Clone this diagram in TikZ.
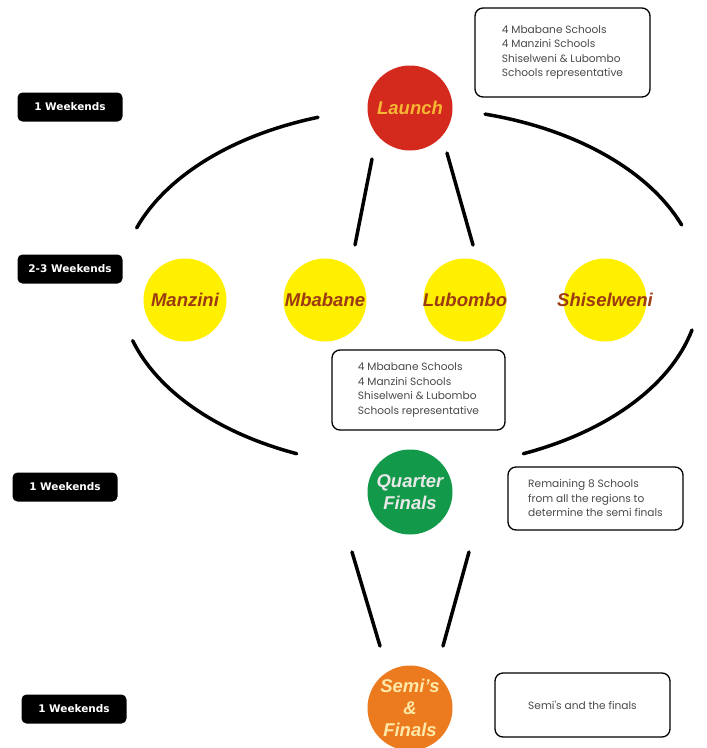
\documentclass[tikz,border=0pt]{standalone}
\usepackage{fontspec}
\setmainfont{Liberation Sans}
\newfontfamily\boxfont{Poppins}
\newfontfamily\tagfont{DejaVu Sans}
\definecolor{launchred}{HTML}{D42A1E}
\definecolor{launchtxt}{HTML}{F7B733}
\definecolor{regyellow}{HTML}{FFF000}
\definecolor{regtxt}{HTML}{9C3A12}
\definecolor{qgreen}{HTML}{13994A}
\definecolor{qtxt}{HTML}{E8E8E8}
\definecolor{sorange}{HTML}{EC7A1E}
\definecolor{stxt}{HTML}{FFE9A8}
\definecolor{notetxt}{HTML}{4A4A4A}
\begin{document}
\begin{tikzpicture}[x=1pt,y=-1pt,
  tag/.style={fill=black, rounded corners=5pt, minimum width=105pt, minimum height=29pt,
    text=white, inner sep=0pt, font=\tagfont\bfseries\fontsize{10.5}{12}\selectfont},
  note/.style={draw=black, line width=1.3pt, rounded corners=8pt, fill=white, align=left,
    text=notetxt, inner sep=0pt, font=\boxfont\fontsize{10.6}{14.5}\selectfont},
  bubble/.style={circle, minimum size=85pt, inner sep=0pt, align=center,
    font=\bfseries\itshape\fontsize{18.5}{22}\selectfont},
  region/.style={bubble, fill=regyellow, text=regtxt, minimum size=83pt},
  link/.style={line width=3.5pt, line cap=round}]
\useasboundingbox (0,0) rectangle (707,748);
\fill[white] (0,0) rectangle (707,748);

% stage tags
\node[tag] (t1) at (70,107) {1 Weekends};
\node[tag] (t2) at (70,269) {2-3 Weekends};
\node[tag] (t3) at (65,487) {1 Weekends};
\node[tag] (t4) at (74,709) {1 Weekends};

% circles
\node[bubble, fill=launchred, text=launchtxt] (launch) at (410,108) {Launch};
\node[region] (manzini) at (185,300) {\makebox[0pt][c]{Manzini}};
\node[region] (mbabane) at (325,300) {\makebox[0pt][c]{Mbabane}};
\node[region] (lubombo) at (465,300) {\makebox[0pt][c]{Lubombo}};
\node[region] (shisel) at (605,300) {\makebox[0pt][c]{Shiselweni}};
\node[bubble, fill=qgreen, text=qtxt] (quarter) at (410,492) {Quarter\\Finals};
\node[bubble, fill=sorange, text=stxt] (semi) at (410,708) {Semi's\\\&\\Finals};

% notes
\node[note, minimum width=175pt, minimum height=89pt]
  (n1) at (562.5,52.5) {4 Mbabane Schools\\4 Manzini Schools\\Shiselweni \& Lubombo\\Schools representative};
\node[note, minimum width=173pt, minimum height=80pt]
  (n2) at (418.5,390) {4 Mbabane Schools\\4 Manzini Schools\\Shiselweni \& Lubombo\\Schools representative};
\node[note, minimum width=175pt, minimum height=63pt]
  (n3) at (595.5,498.5) {Remaining 8 Schools\\from all the regions to\\determine the semi finals};
\node[note, minimum width=175pt, minimum height=64pt, align=center]
  (n4) at (582.5,705) {Semi's and the finals};

% connector end points
\coordinate (ctr) at (410,288);
\coordinate (la) at (372,159);
\coordinate (lb) at (355,245);
\coordinate (lc) at (447,153);
\coordinate (ld) at (473,245);
\coordinate (qa) at (352,552);
\coordinate (qb) at (380,646);
\coordinate (qc) at (469,552);
\coordinate (qd) at (443,646);

% straight connectors
\draw[link] (la) -- (lb);
\draw[link] (lc) -- (ld);
\draw[link] (qa) -- (qb);
\draw[link] (qc) -- (qd);

% elliptical arcs
\draw[link] (ctr) ++(199.5:290 and 180) arc[start angle=199.5, end angle=251.5, x radius=290, y radius=180];
\draw[link] (ctr) ++(285:290 and 180) arc[start angle=285, end angle=339.5, x radius=290, y radius=180];
\draw[link] (ctr) ++(163:290 and 180) arc[start angle=163, end angle=113, x radius=290, y radius=180];
\draw[link] (ctr) ++(13.5:290 and 180) arc[start angle=13.5, end angle=67, x radius=290, y radius=180];
\end{tikzpicture}
\end{document}
